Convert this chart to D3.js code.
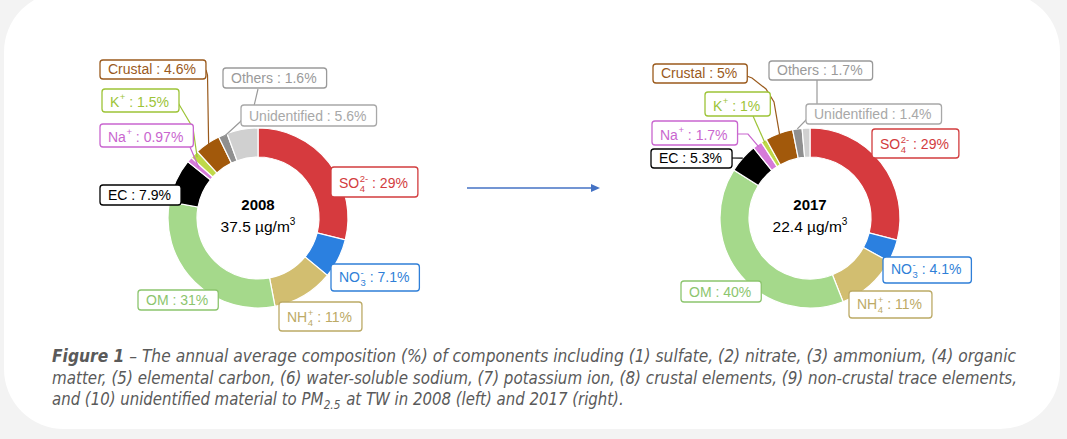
<!DOCTYPE html>
<html>
<head>
<meta charset="utf-8">
<script src="https://cdn.jsdelivr.net/npm/d3@7"></script>
<style>
  html, body { margin: 0; padding: 0; background: #f3f3f3; }
  svg { display: block; }
</style>
</head>
<body>
<svg id="chart" width="1067" height="439"></svg>
<script>
// ---------------- DATA ----------------
const categories = ["SO4", "NO3", "NH4", "OM", "EC", "Na", "K", "Crustal", "Others", "Unidentified"];
const labelBase  = ["SO", "NO", "NH", "OM", "EC", "Na", "K", "Crustal", "Others", "Unidentified"];
const labelSup   = ["2-", "-", "+", "", "", "+", "+", "", "", ""];
const labelSub   = ["4", "3", "4", "", "", "", "", "", "", ""];
const values2008 = [29, 7.1, 11, 31, 7.9, 0.97, 1.5, 4.6, 1.6, 5.6];
const values2017 = [29, 4.1, 11, 40, 5.3, 1.7, 1, 5, 1.7, 1.4];
const years      = ["2008", "2017"];
const totals     = ["37.5", "22.4"];

// ---------------- STYLE ----------------
const sliceColors = ["#d63a3e", "#2b80e0", "#d2be70", "#a5d98b", "#000000", "#d67ad9", "#bfd94a", "#a2590b", "#8f8f8f", "#d0d0d0"];
const textColors  = ["#d23c3e", "#2f7fd8", "#bcaa66", "#8cc56e", "#000000", "#c966cf", "#9dc437", "#9a5a1c", "#9a9a9a", "#a8a8a8"];

// label layouts: [boxX, boxY, boxH]
const layout2008 = [
  [331,167,30],[331,264,27],[279,302,29],[138,290,20],[100,185,20],
  [100,124,23],[102,89,23],[100,60,19],[223,68,20],[241,105,21]
];
const layout2017 = [
  [872,129,29],[883,257,26],[849,291,27],[681,281,21],[651,149,19],
  [652,121,24],[705,92,24],[653,64,19],[769,61,19],[806,104,20]
];
// leader polylines (start/bend points); the end point is taken on the slice itself
const leaders2008 = {
  7: {pts: [[206,70],[207.5,75]], r: 88},
  6: {pts: [[177,101],[193,128]], r: 86},
  5: {pts: [[190,147]], r: 78},
  8: {pts: [[258,89],[254,106],[240,122]], r: 88}
};
const leaders2017 = {
  7: {pts: [[744,75],[752,78],[766,89],[774,102]], r: 88},
  6: {pts: [[753,116]], r: 88},
  5: {pts: [[738,134],[748,134]], r: 88},
  4: {pts: [[731,158]], r: 90},
  8: {pts: [[817,80],[817,110],[806,120]], r: 90}
};

const charts = [
  {cx: 258, cy: 218, values: values2008, layout: layout2008, leaders: leaders2008},
  {cx: 810, cy: 218, values: values2017, layout: layout2017, leaders: leaders2017}
];

const svg = d3.select("#chart");

// background card
svg.append("rect").attr("x", 4).attr("y", -8).attr("width", 1056).attr("height", 437)
  .attr("rx", 60).attr("ry", 60).attr("fill", "#ffffff");

const R_OUT = 90, R_IN = 61;
const pie = d3.pie().sort(null).value(d => d);
const arc = d3.arc().innerRadius(R_IN).outerRadius(R_OUT);
const FONT = "'Liberation Sans', Arial, Helvetica, sans-serif";
const SEP = "\u00a0:\u00a0";

charts.forEach((c, ci) => {
  const arcs = pie(c.values);
  const g = svg.append("g");
  const donut = g.append("g").attr("transform", `translate(${c.cx},${c.cy})`);
  donut.selectAll("path").data(arcs).join("path")
    .attr("d", arc)
    .attr("fill", (d, i) => sliceColors[i])
    .attr("stroke", "#ffffff").attr("stroke-width", 1.2);

  // center text
  donut.append("text").attr("text-anchor", "middle").attr("y", -8)
    .attr("font-family", FONT).attr("font-size", 15).attr("font-weight", "bold")
    .attr("fill", "#000").text(years[ci]);
  const tt = donut.append("text").attr("text-anchor", "middle").attr("y", 13.5)
    .attr("font-family", FONT).attr("font-size", 15.5).attr("fill", "#000");
  tt.append("tspan").text(totals[ci] + "\u00a0\u00b5g/m");
  tt.append("tspan").attr("font-size", 10).attr("dy", -7).text("3");

  // leader lines
  const line = d3.line();
  Object.keys(c.leaders).forEach(k => {
    const i = +k, L = c.leaders[k];
    const a = arcs[i];
    const m = (a.startAngle + a.endAngle) / 2;
    const end = [c.cx + L.r * Math.sin(m), c.cy - L.r * Math.cos(m)];
    g.append("path").attr("d", line(L.pts.concat([end])))
      .attr("fill", "none").attr("stroke", textColors[i]).attr("stroke-width", 1.2);
  });

  // labels
  categories.forEach((cat, i) => {
    const [bx, by, bh] = c.layout[i];
    const lg = g.append("g");
    const rect = lg.append("rect").attr("x", bx).attr("y", by).attr("height", bh)
      .attr("rx", 3).attr("ry", 3).attr("fill", "#ffffff")
      .attr("stroke", textColors[i]).attr("stroke-width", 1.3);
    const hasSub = labelSub[i] !== "";
    const baseline = by + bh - (hasSub ? 9 : 5.5);
    let x = bx + 8;
    const t1 = lg.append("text").attr("x", x).attr("y", baseline)
      .attr("font-family", FONT).attr("font-size", 14).attr("fill", textColors[i])
      .text(labelBase[i]);
    x += t1.node().getComputedTextLength();
    let extra = 0;
    if (labelSup[i]) {
      const s = lg.append("text").attr("x", x + 0.5).attr("y", baseline - 6.5)
        .attr("font-family", FONT).attr("font-size", 9.5).attr("fill", textColors[i])
        .text(labelSup[i]);
      extra = Math.max(extra, s.node().getComputedTextLength());
    }
    if (hasSub) {
      const s = lg.append("text").attr("x", x + 0.5).attr("y", baseline + 4)
        .attr("font-family", FONT).attr("font-size", 9.5).attr("fill", textColors[i])
        .text(labelSub[i]);
      extra = Math.max(extra, s.node().getComputedTextLength());
    }
    x += extra ? extra + 0.5 : 0;
    const t2 = lg.append("text").attr("x", x).attr("y", baseline)
      .attr("font-family", FONT).attr("font-size", 14).attr("fill", textColors[i])
      .text(SEP + c.values[i] + "%");
    x += t2.node().getComputedTextLength();
    rect.attr("width", x - bx + 10);
  });
});

// arrow between the charts
svg.append("line").attr("x1", 467).attr("y1", 188).attr("x2", 592).attr("y2", 188)
  .attr("stroke", "#4472c4").attr("stroke-width", 1.3);
svg.append("path").attr("d", "M591,184 L600,188 L591,192 Z").attr("fill", "#4472c4");

// caption
const CAP_FONT = "'Liberation Sans Narrow', 'DejaVu Sans Condensed', 'Open Sans', sans-serif";
const capColor = "#5a5a5a";
const cap1 = svg.append("text").attr("x", 52).attr("y", 362)
  .attr("font-family", CAP_FONT).attr("font-size", 17).attr("font-style", "italic")
  .attr("fill", capColor).attr("textLength", 964).attr("lengthAdjust", "spacingAndGlyphs");
cap1.append("tspan").attr("font-weight", "bold").text("Figure 1");
cap1.append("tspan").text(" \u2013 The annual average composition (%) of components including (1) sulfate, (2) nitrate, (3) ammonium, (4) organic");
svg.append("text").attr("x", 52).attr("y", 384)
  .attr("font-family", CAP_FONT).attr("font-size", 17).attr("font-style", "italic")
  .attr("fill", capColor).attr("textLength", 965).attr("lengthAdjust", "spacingAndGlyphs")
  .text("matter, (5) elemental carbon, (6) water-soluble sodium, (7) potassium ion, (8) crustal elements, (9) non-crustal trace elements,");

// third caption line: pieces laid out one after another, then squeezed horizontally to the target width
const cap3 = svg.append("g");
const pieces = [
  {t: "and (10) unidentified material to PM", size: 17, dy: 0},
  {t: "2.5", size: 12, dy: 4},
  {t: "\u00a0at TW in 2008 (left) and 2017 (right).", size: 17, dy: 0}
];
let px = 0;
pieces.forEach(p => {
  const t = cap3.append("text").attr("x", px).attr("y", p.dy)
    .attr("font-family", CAP_FONT).attr("font-size", p.size).attr("font-style", "italic")
    .attr("fill", capColor).text(p.t);
  px += t.node().getComputedTextLength() + (p.size < 17 ? 1 : 0);
});
cap3.attr("transform", `translate(52,405) scale(${572 / px},1)`);
</script>
</body>
</html>
